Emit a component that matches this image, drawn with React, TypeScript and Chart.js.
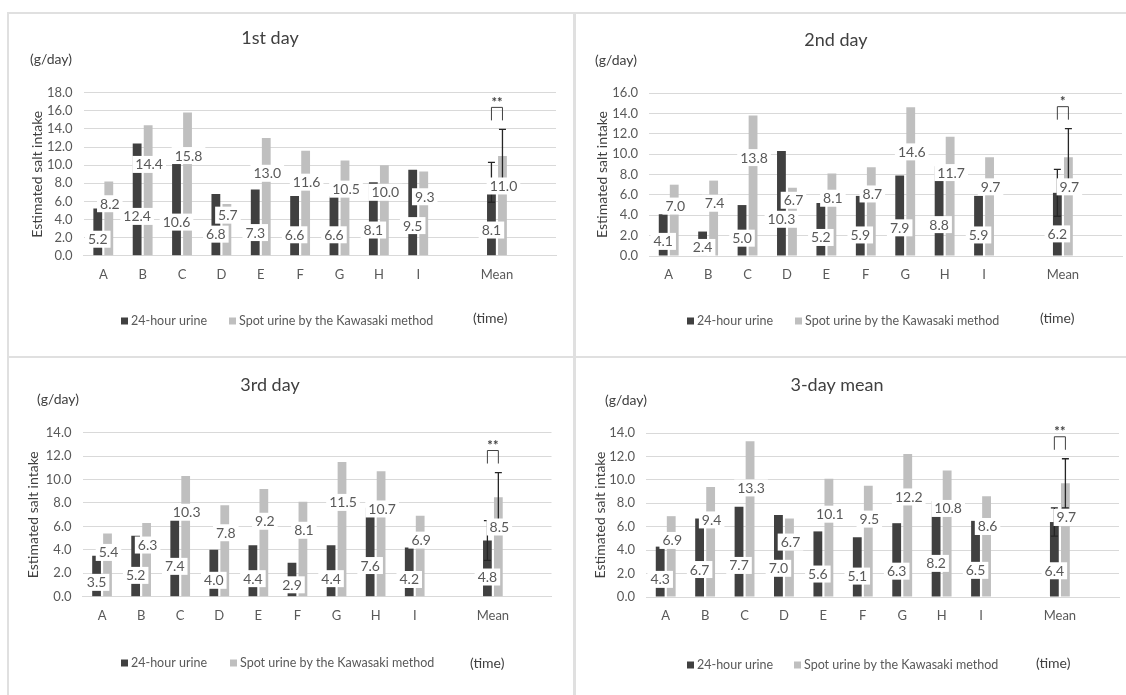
import React, { useEffect, useRef } from "react";
import { Chart, registerables } from "chart.js";

Chart.register(...registerables);

// ---------------- data ----------------
const categories = ["A", "B", "C", "D", "E", "F", "G", "H", "I", "", "Mean", ""];
const seriesNames = ["24-hour urine", "Spot urine by the Kawasaki method"];
const panelTitles = ["1st day", "2nd day", "3rd day", "3-day mean"];

const day1Urine24 = [5.2, 12.4, 10.6, 6.8, 7.3, 6.6, 6.6, 8.1, 9.5, null, 8.1, null];
const day1Spot = [8.2, 14.4, 15.8, 5.7, 13.0, 11.6, 10.5, 10.0, 9.3, null, 11.0, null];
const day2Urine24 = [4.1, 2.4, 5.0, 10.3, 5.2, 5.9, 7.9, 8.8, 5.9, null, 6.2, null];
const day2Spot = [7.0, 7.4, 13.8, 6.7, 8.1, 8.7, 14.6, 11.7, 9.7, null, 9.7, null];
const day3Urine24 = [3.5, 5.2, 7.4, 4.0, 4.4, 2.9, 4.4, 7.6, 4.2, null, 4.8, null];
const day3Spot = [5.4, 6.3, 10.3, 7.8, 9.2, 8.1, 11.5, 10.7, 6.9, null, 8.5, null];
const mean3Urine24 = [4.3, 6.7, 7.7, 7.0, 5.6, 5.1, 6.3, 8.2, 6.5, null, 6.4, null];
const mean3Spot = [6.9, 9.4, 13.3, 6.7, 10.1, 9.5, 12.2, 10.8, 8.6, null, 9.7, null];

const yMaxes = [18, 16, 14, 14];
const meanSDUrine24 = [2.2, 2.3, 1.7, 1.2];
const meanSDSpot = [2.95, 2.8, 2.1, 2.1];
const significance = ["**", "*", "**", "**"];

const urine24Series = [day1Urine24, day2Urine24, day3Urine24, mean3Urine24];
const spotSeries = [day1Spot, day2Spot, day3Spot, mean3Spot];

// ---------------- layout (page coordinates) ----------------
type Box = { x: number; y: number; w: number; h: number };
type Layout = {
  box: Box;
  plot: { l: number; r: number; t: number; b: number };
  title: { x: number; y: number };
  unit: { x: number; y: number };
  yTitleX: number;
  legend: { y: number; darkX: number; lightX: number };
  time: { x: number; y: number };
};

const layouts: Layout[] = [
  {
    box: { x: 7, y: 12, w: 568, h: 346 },
    plot: { l: 83.6, r: 556, t: 92.7, b: 255.7 },
    title: { x: 270, y: 38 },
    unit: { x: 30, y: 59 },
    yTitleX: 37,
    legend: { y: 321, darkX: 121, lightX: 229 },
    time: { x: 473, y: 318 },
  },
  {
    box: { x: 574, y: 12, w: 560, h: 346 },
    plot: { l: 649, r: 1122, t: 93, b: 256 },
    title: { x: 836, y: 40 },
    unit: { x: 595, y: 60 },
    yTitleX: 602,
    legend: { y: 321, darkX: 687, lightX: 795 },
    time: { x: 1040, y: 318 },
  },
  {
    box: { x: 7, y: 356, w: 568, h: 350 },
    plot: { l: 82.5, r: 551.5, t: 432.7, b: 596.7 },
    title: { x: 270, y: 385 },
    unit: { x: 37, y: 399 },
    yTitleX: 33,
    legend: { y: 663, darkX: 121, lightX: 230 },
    time: { x: 470, y: 663 },
  },
  {
    box: { x: 574, y: 356, w: 560, h: 350 },
    plot: { l: 646, r: 1119, t: 433, b: 597 },
    title: { x: 837, y: 385 },
    unit: { x: 605, y: 400 },
    yTitleX: 600,
    legend: { y: 665, darkX: 687, lightX: 794 },
    time: { x: 1036, y: 663 },
  },
];

const FONT = "Lato, 'Open Sans', sans-serif";
const DARK = "#404040";
const LIGHT = "#bfbfbf";
const GRID = "#d9d9d9";
const TEXT = "#595959";
const TITLE = "#404040";

function PanelChart({ idx }: { idx: number }) {
  const ref = useRef<HTMLCanvasElement>(null);
  const L = layouts[idx];
  useEffect(() => {
    const bx = L.box.x;
    const by = L.box.y;
    const cw = L.box.w;
    const ch = L.box.h;
    const pl = L.plot.l - bx;
    const pr = L.plot.r - bx;
    const pt = L.plot.t - by;
    const pb = L.plot.b - by;
    const meanIdx = categories.indexOf("Mean");

    const deco = {
      id: "deco" + idx,
      afterDatasetsDraw(chart: any) {
        const ctx = chart.ctx as CanvasRenderingContext2D;
        const ys = chart.scales.y;
        const m0 = chart.getDatasetMeta(0);
        const m1 = chart.getDatasetMeta(1);
        ctx.save();
        // error bars on Mean
        const drawErr = (x: number, v: number, sd: number) => {
          const yTop = ys.getPixelForValue(v + sd);
          const yBot = ys.getPixelForValue(v - sd);
          ctx.strokeStyle = "#262626";
          ctx.lineWidth = 1.3;
          ctx.beginPath();
          ctx.moveTo(x, yTop);
          ctx.lineTo(x, yBot);
          ctx.moveTo(x - 3.5, yTop);
          ctx.lineTo(x + 3.5, yTop);
          ctx.moveTo(x - 3.5, yBot);
          ctx.lineTo(x + 3.5, yBot);
          ctx.stroke();
        };
        const d0 = m0.data[meanIdx];
        const d1 = m1.data[meanIdx];
        const v0 = urine24Series[idx][meanIdx] as number;
        const v1 = spotSeries[idx][meanIdx] as number;
        drawErr(d0.x, v0, meanSDUrine24[idx]);
        drawErr(d1.x, v1, meanSDSpot[idx]);
        // significance bracket
        const legBottom = ys.getPixelForValue(v1 + meanSDSpot[idx]) - 9;
        const top = legBottom - 13;
        ctx.strokeStyle = "#404040";
        ctx.lineWidth = 1;
        ctx.beginPath();
        ctx.moveTo(d0.x, legBottom);
        ctx.lineTo(d0.x, top);
        ctx.lineTo(d1.x, top);
        ctx.lineTo(d1.x, legBottom);
        ctx.stroke();
        ctx.fillStyle = "#404040";
        ctx.font = `bold 13px ${FONT}`;
        ctx.textAlign = "center";
        ctx.textBaseline = "middle";
        ctx.fillText(significance[idx], (d0.x + d1.x) / 2, top - 5);

        // value labels
        ctx.font = `14px ${FONT}`;
        const boxH = 17;
        const drawLabel = (x: number, yc: number, v: number) => {
          const t = v.toFixed(1);
          const w = ctx.measureText(t).width + 6;
          ctx.fillStyle = "#ffffff";
          ctx.fillRect(x - w / 2, yc - boxH / 2, w, boxH);
          ctx.fillStyle = TEXT;
          ctx.textAlign = "center";
          ctx.textBaseline = "middle";
          ctx.fillText(t, x, yc + 0.5);
        };
        const a = urine24Series[idx];
        const b = spotSeries[idx];
        for (let j = 0; j < categories.length; j++) {
          const va = a[j];
          const vb = b[j];
          if (va == null || vb == null) continue;
          const ya = ys.getPixelForValue(va * 0.35);
          let yb = ys.getPixelForValue(vb * 0.7);
          if (Math.abs(yb - ya) < boxH + 2) yb = ya - (boxH + 2);
          drawLabel(m0.data[j].x, ya, va);
          drawLabel(m1.data[j].x + 1, yb, vb);
        }
        ctx.restore();
      },
      afterDraw(chart: any) {
        const ctx = chart.ctx as CanvasRenderingContext2D;
        ctx.save();
        // title
        ctx.fillStyle = TITLE;
        ctx.font = `18px ${FONT}`;
        ctx.textAlign = "center";
        ctx.textBaseline = "middle";
        ctx.fillText(panelTitles[idx], L.title.x - bx, L.title.y - by);
        // unit
        ctx.font = `14px ${FONT}`;
        ctx.textAlign = "left";
        ctx.fillText("(g/day)", L.unit.x - bx, L.unit.y - by);
        // y title
        ctx.save();
        ctx.translate(L.yTitleX - bx, (pt + pb) / 2);
        ctx.rotate(-Math.PI / 2);
        ctx.font = `14px ${FONT}`;
        ctx.textAlign = "center";
        ctx.fillText("Estimated salt intake", 0, 0);
        ctx.restore();
        // legend
        const ly = L.legend.y - by;
        ctx.font = `12.5px ${FONT}`;
        ctx.textAlign = "left";
        ctx.textBaseline = "middle";
        ctx.fillStyle = DARK;
        ctx.fillRect(L.legend.darkX - bx, ly - 3.5, 7, 7);
        ctx.fillStyle = TEXT;
        ctx.fillText(seriesNames[0], L.legend.darkX - bx + 10, ly);
        ctx.fillStyle = LIGHT;
        ctx.fillRect(L.legend.lightX - bx, ly - 3.5, 7, 7);
        ctx.fillStyle = TEXT;
        ctx.fillText(seriesNames[1], L.legend.lightX - bx + 10, ly);
        // time
        ctx.font = `14px ${FONT}`;
        ctx.fillStyle = TITLE;
        ctx.fillText("(time)", L.time.x - bx, L.time.y - by);
        ctx.restore();
      },
    };

    const chart = new Chart(ref.current as HTMLCanvasElement, {
      type: "bar",
      data: {
        labels: categories,
        datasets: [
          {
            label: seriesNames[0],
            data: urine24Series[idx] as any,
            backgroundColor: DARK,
            categoryPercentage: 0.56,
            barPercentage: 0.8,
          },
          {
            label: seriesNames[1],
            data: spotSeries[idx] as any,
            backgroundColor: LIGHT,
            categoryPercentage: 0.56,
            barPercentage: 0.8,
          },
        ],
      },
      options: {
        responsive: false,
        animation: false,
        devicePixelRatio: 1,
        layout: { padding: { top: pt, right: cw - pr, left: 0, bottom: 0 } },
        plugins: {
          legend: { display: false },
          tooltip: { enabled: false },
          title: { display: false },
        },
        scales: {
          x: {
            afterFit: (s: any) => {
              s.height = ch - pb;
            },
            grid: { display: false, drawTicks: false },
            border: { display: true, color: GRID },
            ticks: {
              autoSkip: false,
              maxRotation: 0,
              padding: 11,
              color: TEXT,
              font: { family: FONT, size: 13 },
            },
          },
          y: {
            min: 0,
            max: yMaxes[idx],
            afterFit: (s: any) => {
              s.width = pl;
            },
            border: { display: false },
            grid: { color: GRID, lineWidth: 1, drawTicks: false },
            ticks: {
              stepSize: 2,
              autoSkip: false,
              padding: 11,
              color: TEXT,
              font: { family: FONT, size: 13 },
              callback: (v: any) => Number(v).toFixed(1),
            },
          },
        },
      },
      plugins: [deco],
    } as any);
    return () => chart.destroy();
  }, []);

  return (
    <div
      style={{
        position: "absolute",
        left: L.box.x,
        top: L.box.y,
        width: L.box.w,
        height: L.box.h,
      }}
    >
      <canvas
        ref={ref}
        width={L.box.w}
        height={L.box.h}
        style={{ width: L.box.w, height: L.box.h, display: "block" }}
      />
      <div
        style={{
          position: "absolute",
          left: 0,
          top: 0,
          width: L.box.w,
          height: L.box.h,
          border: "2px solid #e0e0e0",
          boxSizing: "border-box",
          pointerEvents: "none",
        }}
      />
    </div>
  );
}

export default function App() {
  return (
    <div
      style={{
        position: "absolute",
        left: 0,
        top: 0,
        width: 1126,
        height: 695,
        overflow: "hidden",
        background: "#ffffff",
      }}
    >
      {layouts.map((_, i) => (
        <PanelChart key={i} idx={i} />
      ))}
    </div>
  );
}
